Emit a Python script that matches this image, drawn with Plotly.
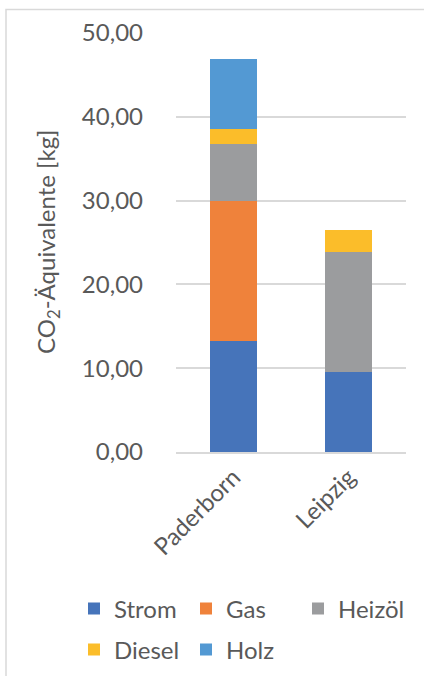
import plotly.graph_objects as go

categories = ["Paderborn", "Leipzig"]
strom = [13.2, 9.5]
gas = [16.7, 0.0]
heizoel = [6.8, 14.4]
diesel = [1.9, 2.6]
holz = [8.3, 0.0]

series_names = ["Strom", "Gas", "Heizöl", "Diesel", "Holz"]
series_values = [strom, gas, heizoel, diesel, holz]
colors = ["#4674ba", "#ef823b", "#9b9c9e", "#fbbd2a", "#5399d3"]
legend_of = ["legend", "legend", "legend", "legend2", "legend2"]

y_ticks = [0, 10, 20, 30, 40, 50]
y_ticktext = ["0,00", "10,00", "20,00", "30,00", "40,00", "50,00"]

FONT = "Lato"
TXT = "#595959"

W, H = 424, 676
L, R, T, B = 176, 18, 33, 224
pw = W - L - R
ph = H - T - B

def px_x(x):
    return (x - L) / pw

def px_y(y):
    return (H - B - y) / ph

fig = go.Figure()
for name, vals, c, lg in zip(series_names, series_values, colors, legend_of):
    fig.add_trace(go.Bar(name=name, x=categories, y=vals, marker=dict(color=c, line=dict(width=0)),
                         legend=lg))

leg_common = dict(
    orientation="h", xanchor="left", yanchor="middle",
    font=dict(size=24, color=TXT, family=FONT),
    entrywidth=67, entrywidthmode="pixels", traceorder="normal",
    bgcolor="rgba(0,0,0,0)",
)

fig.update_layout(
    width=W, height=H,
    margin=dict(l=L, r=R, t=T, b=B, autoexpand=False),
    barmode="stack",
    bargap=0.59,
    plot_bgcolor="white",
    paper_bgcolor="white",
    font=dict(family=FONT, color=TXT),
    xaxis=dict(
        range=[-0.5, 1.5],
        tickangle=-45,
        tickfont=dict(size=24, color=TXT, family=FONT),
        showline=True, linecolor="#d9d9d9", linewidth=1.5,
        ticks="",
        showgrid=False,
    ),
    yaxis=dict(
        range=[0, 50],
        tickvals=y_ticks, ticktext=y_ticktext,
        tickfont=dict(size=24, color=TXT, family=FONT),
        showgrid=True, gridcolor="#d9d9d9", gridwidth=1.5,
        zeroline=False,
        ticks="",
        ticklabelstandoff=32,
    ),
    legend=dict(x=px_x(74), y=px_y(609), **leg_common),
    legend2=dict(x=px_x(74), y=px_y(650), **leg_common),
    showlegend=True,
)

fig.add_annotation(
    text="CO<sub>2</sub>-Äquivalente [kg]",
    xref="paper", yref="paper", x=px_x(47), y=px_y(242),
    xanchor="center", yanchor="middle", textangle=-90, showarrow=False,
    font=dict(size=24, color=TXT, family=FONT),
)

# chart frame
fig.add_shape(type="rect", xref="paper", yref="paper",
              x0=px_x(6), x1=px_x(440), y0=px_y(700), y1=px_y(9.5),
              line=dict(color="#d9d9d9", width=1.5), fillcolor="rgba(0,0,0,0)", layer="below")

fig.write_html("out.html")
